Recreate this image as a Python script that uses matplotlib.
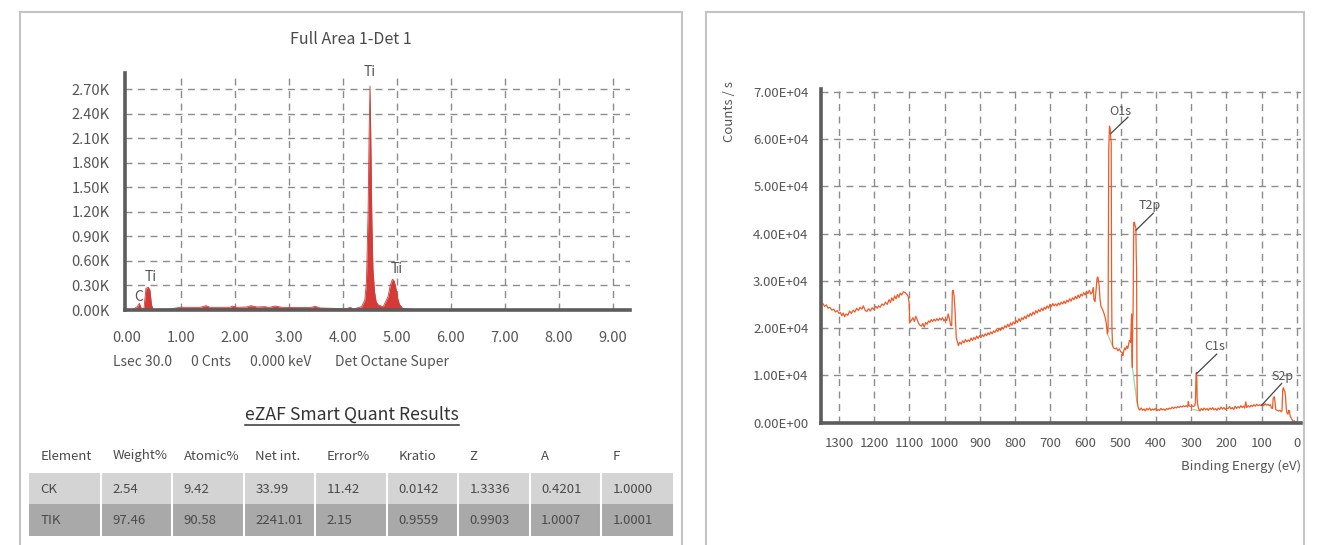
import numpy as np
import matplotlib
matplotlib.use("Agg")
import matplotlib.pyplot as plt
from matplotlib.patches import Rectangle
from matplotlib.lines import Line2D

plt.rcParams['font.family'] = ['Noto Sans CJK KR', 'DejaVu Sans']

W, H = 1320, 545
TXT = '#555555'
GRID = '#8c8c8c'
SPINE = '#5c5c5c'

# ---- EDS spectrum (keV, counts) ----
eds_kev = [0.0, 0.12, 0.197, 0.234, 0.271, 0.32, 0.357, 0.40, 0.43, 0.46, 0.49,
           0.80, 0.99, 1.36, 1.47, 1.54, 1.91, 1.96, 2.04, 2.22, 2.30, 2.41,
           2.57, 2.62, 2.75, 2.87, 3.39, 3.49, 3.58, 4.07, 4.14, 4.20, 4.35,
           4.41, 4.44, 4.47, 4.49, 4.506, 4.52, 4.54, 4.56, 4.59, 4.62, 4.66,
           4.75, 4.84, 4.88, 4.92, 4.95, 4.98, 5.02, 5.05, 5.11, 5.37, 9.3]
eds_counts = [0, 8, 41, 82, 20, 20, 266, 278, 245, 61, 8,
              12, 33, 33, 53, 33, 33, 49, 33, 37, 53, 37,
              41, 29, 49, 33, 29, 45, 25, 16, 33, 12, 41,
              123, 350, 1200, 2200, 2741, 2100, 1100, 500, 220, 100, 61,
              41, 164, 300, 376, 360, 286, 140, 70, 20, 4, 0]
eds_peaks = [('C', 0.222, 163), ('Ti', 0.437, 407), ('Ti', 4.505, 2916), ('Ti', 5.0, 505)]

# ---- quant table ----
table_header = ['Element', 'Weight%', 'Atomic%', 'Net int.', 'Error%', 'Kratio', 'Z', 'A', 'F']
table_rows = [
    ['CK', '2.54', '9.42', '33.99', '11.42', '0.0142', '1.3336', '0.4201', '1.0000'],
    ['TIK', '97.46', '90.58', '2241.01', '2.15', '0.9559', '0.9903', '1.0007', '1.0001'],
]

# ---- XPS survey (binding energy eV, counts/s in 1e4) ----
xps_trace = [
    (1346, 2.52), (1341, 2.46), (1336, 2.49), (1331, 2.42), (1326, 2.44), (1320, 2.38),
    (1315, 2.40), (1310, 2.34), (1305, 2.37), (1300, 2.31), (1296, 2.33), (1292, 2.26),
    (1288, 2.32), (1284, 2.24), (1280, 2.30), (1275, 2.27), (1270, 2.36), (1265, 2.31),
    (1260, 2.38), (1255, 2.34), (1250, 2.42), (1245, 2.37), (1240, 2.44), (1235, 2.40),
    (1231, 2.47), (1226, 2.38), (1221, 2.35), (1216, 2.41), (1211, 2.36), (1206, 2.43),
    (1201, 2.39), (1196, 2.46), (1191, 2.42), (1188, 2.47), (1183, 2.44), (1178, 2.51),
    (1173, 2.48), (1168, 2.55), (1163, 2.50), (1158, 2.60), (1154, 2.54), (1150, 2.64),
    (1146, 2.58), (1142, 2.68), (1138, 2.62), (1134, 2.71), (1130, 2.65), (1126, 2.74),
    (1122, 2.70), (1117, 2.77), (1112, 2.75), (1108, 2.72), (1104, 2.68), (1101, 2.55),
    (1099, 2.12), (1095, 2.16), (1090, 2.22), (1086, 2.14), (1082, 2.25), (1078, 2.18),
    (1074, 2.10), (1070, 2.06), (1066, 2.04), (1062, 2.10), (1058, 2.02), (1054, 2.12),
    (1050, 2.08), (1046, 2.15), (1042, 2.12), (1038, 2.18), (1034, 2.14), (1030, 2.19),
    (1026, 2.15), (1022, 2.20), (1018, 2.16), (1014, 2.21), (1010, 2.17), (1006, 2.22),
    (1002, 2.15), (998, 2.19), (994, 2.16), (990, 2.30), (986, 2.18), (983, 2.06),
    (980, 2.05), (978, 2.77), (976, 2.80), (973, 2.68), (970, 2.30), (967, 1.80),
    (964, 1.72), (961, 1.63), (957, 1.70), (953, 1.66), (949, 1.73), (945, 1.69),
    (941, 1.76), (937, 1.71), (933, 1.75), (929, 1.72), (925, 1.79), (921, 1.74),
    (917, 1.80), (913, 1.76), (909, 1.83), (905, 1.78), (901, 1.84), (897, 1.80),
    (893, 1.86), (889, 1.82), (885, 1.88), (881, 1.84), (877, 1.90), (873, 1.86),
    (869, 1.92), (865, 1.88), (861, 1.94), (857, 1.91), (853, 1.97), (849, 1.93),
    (845, 1.99), (841, 1.95), (837, 2.02), (833, 1.98), (829, 2.05), (825, 2.01),
    (821, 2.08), (817, 2.03), (813, 2.11), (809, 2.06), (805, 2.13), (801, 2.09),
    (797, 2.16), (793, 2.12), (789, 2.20), (785, 2.14), (781, 2.22), (777, 2.18),
    (773, 2.25), (769, 2.20), (765, 2.28), (761, 2.24), (757, 2.31), (753, 2.26),
    (749, 2.34), (745, 2.29), (741, 2.37), (737, 2.32), (733, 2.39), (729, 2.35),
    (725, 2.42), (721, 2.37), (717, 2.44), (713, 2.40), (709, 2.47), (705, 2.42),
    (701, 2.50), (697, 2.45), (693, 2.52), (689, 2.47), (685, 2.51), (681, 2.47),
    (677, 2.53), (673, 2.49), (669, 2.55), (665, 2.51), (661, 2.57), (657, 2.52),
    (653, 2.59), (649, 2.55), (645, 2.62), (641, 2.57), (637, 2.64), (633, 2.60),
    (629, 2.67), (625, 2.62), (621, 2.70), (617, 2.64), (613, 2.72), (609, 2.68),
    (605, 2.75), (601, 2.70), (597, 2.78), (593, 2.73), (589, 2.80), (585, 2.72),
    (581, 2.76), (578, 2.86), (576, 2.60), (573, 2.56), (570, 2.82), (567, 3.06),
    (565, 3.08), (563, 3.00), (561, 2.88), (559, 2.62), (556, 2.45), (553, 2.42),
    (550, 2.36), (547, 2.30), (544, 2.22), (541, 2.10), (538, 1.88), (536, 1.92),
    (534, 5.80), (532, 6.27), (530, 6.22), (528, 6.00), (527, 5.90), (526, 3.00),
    (525, 2.00), (523, 1.62), (520, 1.58), (516, 1.56), (512, 1.58), (508, 1.52),
    (504, 1.56), (500, 1.50), (496, 1.48), (494, 1.42), (492, 1.50), (489, 1.58),
    (486, 1.54), (483, 1.62), (480, 1.57), (477, 1.68), (475, 1.74), (472, 1.70),
    (470, 2.10), (469, 2.30), (468, 1.40), (467, 1.17), (466, 2.20), (465, 2.27),
    (463, 4.23), (461, 4.24), (459, 4.16), (457, 4.12), (456, 3.52), (455, 3.30),
    (454, 1.20), (453, 0.46), (451, 0.34), (448, 0.28), (446, 0.27), (442, 0.31),
    (438, 0.26), (434, 0.29), (430, 0.25), (426, 0.30), (422, 0.27), (418, 0.31),
    (414, 0.26), (410, 0.29), (406, 0.27), (402, 0.30), (398, 0.25), (394, 0.28),
    (390, 0.26), (386, 0.30), (382, 0.27), (378, 0.29), (374, 0.26), (370, 0.30),
    (366, 0.28), (362, 0.31), (358, 0.29), (354, 0.33), (350, 0.30), (346, 0.33),
    (342, 0.31), (338, 0.34), (334, 0.32), (330, 0.35), (326, 0.33), (322, 0.36),
    (318, 0.34), (314, 0.36), (310, 0.33), (308, 0.45), (306, 0.36), (302, 0.34),
    (298, 0.36), (294, 0.34), (290, 0.36), (288, 0.42), (286, 1.03), (285, 1.06),
    (284, 0.95), (283, 0.50), (281, 0.36), (278, 0.28), (275, 0.25), (271, 0.30),
    (267, 0.26), (263, 0.31), (259, 0.27), (255, 0.30), (251, 0.26), (247, 0.31),
    (243, 0.28), (239, 0.32), (235, 0.27), (231, 0.30), (227, 0.26), (223, 0.31),
    (219, 0.28), (215, 0.33), (211, 0.29), (207, 0.32), (203, 0.28), (199, 0.31),
    (195, 0.30), (191, 0.34), (187, 0.29), (183, 0.32), (179, 0.28), (175, 0.35),
    (171, 0.30), (167, 0.34), (163, 0.31), (159, 0.36), (155, 0.32), (151, 0.35),
    (148, 0.31), (145, 0.44), (142, 0.32), (138, 0.36), (134, 0.33), (130, 0.37),
    (126, 0.34), (122, 0.38), (118, 0.35), (114, 0.39), (110, 0.36), (106, 0.38),
    (102, 0.36), (98, 0.39), (94, 0.36), (90, 0.40), (86, 0.37), (82, 0.39),
    (78, 0.36), (75, 0.38), (72, 0.31), (69, 0.30), (67, 0.52), (64, 0.55),
    (62, 0.45), (60, 0.28), (56, 0.26), (52, 0.25), (48, 0.26), (44, 0.23),
    (42, 0.26), (40, 0.70), (38, 0.74), (36, 0.69), (34, 0.66), (32, 0.55),
    (30, 0.30), (28, 0.21), (25, 0.18), (23, 0.26), (21, 0.25), (19, 0.14),
    (16, 0.10), (13, 0.06), (10, 0.02), (7, 0.04), (4, 0.01), (1, 0.02), (0, 0.0),
]
# fitted background under the main peaks
xps_bg = [
    [(538, 1.88), (523, 1.62)],
    [(467, 1.17), (453, 0.39)],
    [(294, 0.28), (275, 0.25)],
]
# label, peak (eV, 1e4), leader end (eV, 1e4), text (eV, 1e4)
xps_labels = [
    ('O1s', (527.6, 6.12), (479.4, 6.46), (502, 6.59)),
    ('T2p', (456.6, 4.07), (407.5, 4.43), (417.7, 4.60)),
    ('C1s', (284.3, 1.04), (227.5, 1.45), (234.3, 1.62)),
    ('S2p', (99.7, 0.37), (42.9, 0.83), (41.2, 0.97)),
]


def fx(px):
    return px / W


def fy(py):
    return 1 - py / H


fig = plt.figure(figsize=(13.2, 5.45), dpi=100)

# panel frames
for x0, x1 in [(19.5, 681.7), (705.7, 1304)]:
    fig.patches.append(Rectangle((fx(x0), fy(560)), fx(x1) - fx(x0), fy(11.7) - fy(560),
                                 transform=fig.transFigure, fill=False,
                                 edgecolor='#c4c4c4', lw=1.5))


def style_axes(ax, lw=2.6):
    for s in ['top', 'right']:
        ax.spines[s].set_visible(False)
    for s in ['left', 'bottom']:
        ax.spines[s].set_color(SPINE)
        ax.spines[s].set_linewidth(lw)
        ax.spines[s].set_zorder(5)
    ax.tick_params(length=0, colors=TXT)


# ===== EDS spectrum =====
ax1 = fig.add_axes([fx(125), fy(310), fx(630) - fx(125), fy(73.3) - fy(310)])
ax1.fill_between(eds_kev, eds_counts, color='#d63a36', lw=0, zorder=3)
ax1.plot(eds_kev, eds_counts, color='#c9403c', lw=0.6, zorder=3)
ax1.set_xlim(-0.031, 9.32)
ax1.set_ylim(0, 2896)
ax1.set_xticks(np.arange(0, 10))
ax1.set_xticklabels([f'{v:.2f}' for v in range(10)], fontsize=10.5)
ax1.set_yticks(np.arange(0, 2701, 300))
ax1.set_yticklabels([f'{v / 1000:.2f}K' for v in range(0, 2701, 300)], fontsize=10.5)
ax1.tick_params(axis='x', pad=15)
ax1.tick_params(axis='y', pad=11)
for v in range(1, 10):
    ax1.axvline(v, color=GRID, lw=1, ls=(0, (5, 4)), zorder=1)
for v in range(300, 2701, 300):
    ax1.axhline(v, color=GRID, lw=1, ls=(0, (5, 4)), zorder=1)
style_axes(ax1)
for name, kx, ky in eds_peaks:
    ax1.text(kx, ky, name, ha='center', va='center', fontsize=10, color=TXT,
             clip_on=False, zorder=6)

fig.text(fx(350.7), fy(40), 'Full Area 1-Det 1', ha='center', va='center',
         fontsize=11.5, color='#4a4a4a')
for txt, px in [('Lsec 30.0', 112.7), ('0 Cnts', 191), ('0.000 keV', 250),
                ('Det Octane Super', 335)]:
    fig.text(fx(px), fy(366), txt, ha='left', va='baseline', fontsize=10, color=TXT)

# ===== quant table =====
t = fig.text(fx(352), fy(420), 'eZAF Smart Quant Results', ha='center', va='baseline',
             fontsize=12.7, color='#333333')
fig.canvas.draw()
bb = t.get_window_extent().transformed(fig.transFigure.inverted())
fig.add_artist(Line2D([bb.x0, bb.x1], [fy(424.5), fy(424.5)], color='#333333', lw=1.1,
                      transform=fig.transFigure))

tab_x0, tab_x1 = 29.3, 672.7
col_w = (tab_x1 - tab_x0) / len(table_header)
row_top = [472.7, 504.0]
row_h = 31.6
row_colors = ['#d4d4d4', '#a9a9a9']
for i, name in enumerate(table_header):
    fig.text(fx(tab_x0 + i * col_w + 11.4), fy(459.5), name, ha='left', va='baseline',
             fontsize=9.5, color='#4a4a4a')
for r, row in enumerate(table_rows):
    fig.patches.append(Rectangle((fx(tab_x0), fy(row_top[r] + row_h)),
                                 fx(tab_x1) - fx(tab_x0), row_h / H,
                                 transform=fig.transFigure, color=row_colors[r], lw=0))
    for i, val in enumerate(row):
        fig.text(fx(tab_x0 + i * col_w + 11.4), fy(row_top[r] + row_h / 2 + 4.5), val,
                 ha='left', va='baseline', fontsize=9.5, color='#4a4a4a')
for i in range(1, len(table_header)):
    xs = fx(tab_x0 + i * col_w)
    fig.add_artist(Line2D([xs, xs], [fy(row_top[0]), fy(row_top[1] + row_h)],
                          color='white', lw=1.5, transform=fig.transFigure))

# ===== XPS survey =====
ax2 = fig.add_axes([fx(821), fy(422.7), fx(1301) - fx(821), fy(89.3) - fy(422.7)])
xps = np.array(xps_trace)
ax2.plot(xps[:, 0], xps[:, 1] * 1e4, color='#f05a28', lw=0.9, zorder=3)
for seg in xps_bg:
    s = np.array(seg)
    ax2.plot(s[:, 0], s[:, 1] * 1e4, color='#9fd89a', lw=0.9, zorder=2)
ax2.set_xlim(1351.1, -11.9)
ax2.set_ylim(0, 7.049e4)
ax2.set_xticks(np.arange(0, 1301, 100))
ax2.set_xticklabels([str(v) for v in range(0, 1301, 100)], fontsize=9.5)
ax2.set_yticks(np.arange(0, 70001, 10000))
ax2.set_yticklabels([f'{v:.2E}' for v in range(0, 70001, 10000)], fontsize=9.5)
ax2.tick_params(axis='x', pad=10)
ax2.tick_params(axis='y', pad=9)
for v in range(0, 1301, 100):
    ax2.axvline(v, color=GRID, lw=1, ls=(0, (5, 4)), zorder=1)
for v in range(10000, 70001, 10000):
    ax2.axhline(v, color=GRID, lw=1, ls=(0, (5, 4)), zorder=1)
style_axes(ax2)
for name, peak, end, pos in xps_labels:
    ax2.plot([peak[0], end[0]], [peak[1] * 1e4, end[1] * 1e4], color='#444444', lw=0.9,
             zorder=4)
    ax2.text(pos[0], pos[1] * 1e4, name, ha='center', va='center', fontsize=9,
             color=TXT, zorder=6)

fig.text(fx(730), fy(111), 'Counts / s', rotation=90, ha='center', va='center',
         fontsize=9.5, color=TXT)
fig.text(fx(1301), fy(466.7), 'Binding Energy (eV)', ha='right', va='center',
         fontsize=9.5, color=TXT)

fig.savefig('out.png', dpi=100)
